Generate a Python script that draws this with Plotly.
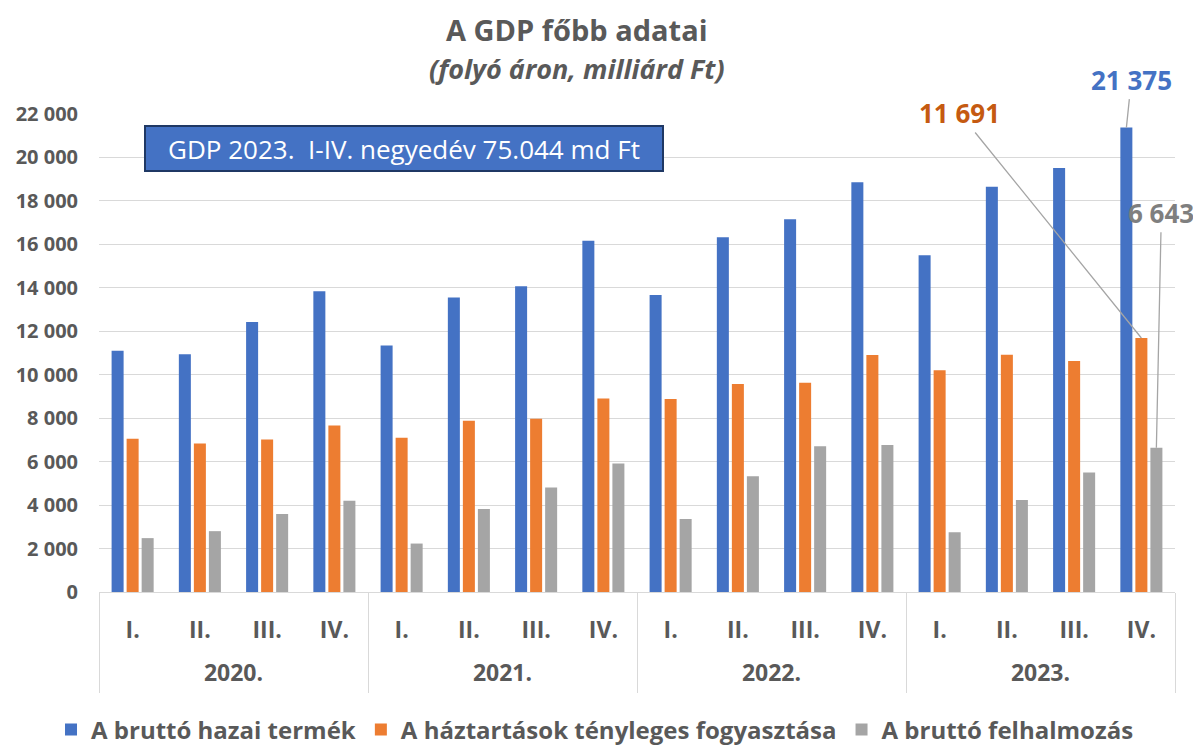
import plotly.graph_objects as go

years = ["2020.", "2021.", "2022.", "2023."]
quarters = ["I.", "II.", "III.", "IV."]

gdp = [11100, 10940, 12430, 13840,
       11340, 13560, 14070, 16170,
       13670, 16330, 17160, 18860,
       15500, 18650, 19520, 21375]
consumption = [7050, 6840, 7020, 7660,
               7100, 7880, 7970, 8910,
               8880, 9570, 9630, 10910,
               10210, 10920, 10630, 11691]
accumulation = [2480, 2800, 3590, 4200,
                2230, 3820, 4810, 5910,
                3360, 5330, 6710, 6760,
                2750, 4240, 5500, 6643]

series_names = ["A bruttó hazai termék",
                "A háztartások tényleges fogyasztása",
                "A bruttó felhalmozás"]
colors = ["#4472C4", "#ED7D31", "#A5A5A5"]
label_colors = ["#4472C4", "#C55A11", "#7F7F7F"]

y_ticks = list(range(0, 22001, 2000))

title_text = "A GDP főbb adatai"
subtitle_text = "(folyó áron, milliárd Ft)"
box_text = "GDP 2023.  I-IV. negyedév 75.044 md Ft"

FONT = "Open Sans"
GREY = "#595959"
LINE = "#D9D9D9"

# one category per (year, quarter); the axis shows the quarter, a second axis the year
categories = [f"{y} {q}" for y in years for q in quarters]
cat_labels = [q for _ in years for q in quarters]
nq = len(quarters)
n = len(categories)
year_centers = [i * nq + (nq - 1) / 2 for i in range(len(years))]

fig = go.Figure()
for name, vals, col in zip(series_names, [gdp, consumption, accumulation], colors):
    fig.add_trace(go.Bar(
        x=categories, y=vals, name=name,
        marker=dict(color=col, line=dict(width=0)),
    ))
# empty helper trace so the year axis (x2) is drawn
fig.add_trace(go.Scatter(x=[], y=[], xaxis="x2", yaxis="y", mode="markers",
                         showlegend=False, hoverinfo="skip"))

fig.update_layout(
    template="none",
    width=1193, height=739,
    margin=dict(l=91, r=26, t=106, b=155, autoexpand=False),
    paper_bgcolor="white", plot_bgcolor="white",
    separators=", ",
    barmode="group", bargap=0.33, bargroupgap=0.2,
    font=dict(family=FONT, color=GREY),
    showlegend=True,
    legend=dict(orientation="h", x=-0.0446, xanchor="left", xref="paper",
                y=-0.2887, yanchor="middle", yref="paper",
                font=dict(family=FONT, size=24, color=GREY, weight="bold"),
                itemwidth=30, traceorder="normal", itemclick=False,
                bgcolor="rgba(0,0,0,0)"),
)

fig.update_yaxes(
    range=[0, 22000], tickvals=y_ticks, tickformat=",d",
    showgrid=True, gridcolor=LINE, gridwidth=1.3,
    zeroline=False, showline=False, ticks="", automargin=False,
    tickfont=dict(family=FONT, size=20, color=GREY, weight="bold"),
    ticklabelstandoff=20,
)
# quarter row
fig.update_layout(xaxis=dict(
    type="category", automargin=False, range=[-0.5, n - 0.5],
    tickmode="array", tickvals=categories, ticktext=cat_labels,
    showline=True, linecolor=LINE, linewidth=1.3,
    ticks="", ticklabelstandoff=17, tickangle=0,
    tickfont=dict(family=FONT, size=23, color=GREY, weight="bold"),
    showgrid=False, zeroline=False,
))
# year row with the group dividers
fig.update_layout(xaxis2=dict(
    type="linear", overlaying="x", anchor="y", side="bottom",
    automargin=False, range=[-0.5, n - 0.5],
    tickmode="array", tickvals=year_centers, ticktext=years,
    ticks="", ticklabelstandoff=65, tickangle=0,
    tickfont=dict(family=FONT, size=23, color=GREY, weight="bold"),
    showline=False, showgrid=False, zeroline=False,
    minor=dict(tick0=-0.5, dtick=nq, ticks="outside", ticklen=100,
               tickcolor=LINE, tickwidth=1.3, showgrid=False),
))

# Title and subtitle (one text block, two lines)
fig.add_annotation(
    text=(f'<span style="font-size:29px">{title_text}</span><br>'
          f'<i><span style="font-size:27px">{subtitle_text}</span></i>'),
    xref="paper", yref="paper", x=0.444, y=1.0, yanchor="middle", yshift=66,
    showarrow=False,
    font=dict(family=FONT, size=29.4, color=GREY, weight="bold"))

# Blue info box
fig.add_annotation(text=box_text, xref="paper", yref="paper",
                   x=0.0418, xanchor="left", y=1.0, yanchor="middle", yshift=-34.5,
                   showarrow=False, width=514, height=41, borderpad=1,
                   bgcolor="#4472C4", bordercolor="#1F3864", borderwidth=2,
                   font=dict(family=FONT, size=26, color="white"))

# Data labels for the last quarter, with leader lines
last = n - 1
offsets = [-0.223, 0.0, 0.223]
shifts = [(5, -48), (-182, -225), (5, -235)]
for vals, off, col, (axp, ayp) in zip([gdp, consumption, accumulation], offsets,
                                      label_colors, shifts):
    v = vals[last]
    fig.add_annotation(x=last + off, y=v, xref="x", yref="y",
                       text=f"{v:,}".replace(",", " "),
                       showarrow=True, arrowhead=0, arrowwidth=1.3,
                       arrowcolor="#A5A5A5", ax=axp, ay=ayp, standoff=0,
                       font=dict(family=FONT, size=26, color=col, weight="bold"))

fig.write_html("out.html")
